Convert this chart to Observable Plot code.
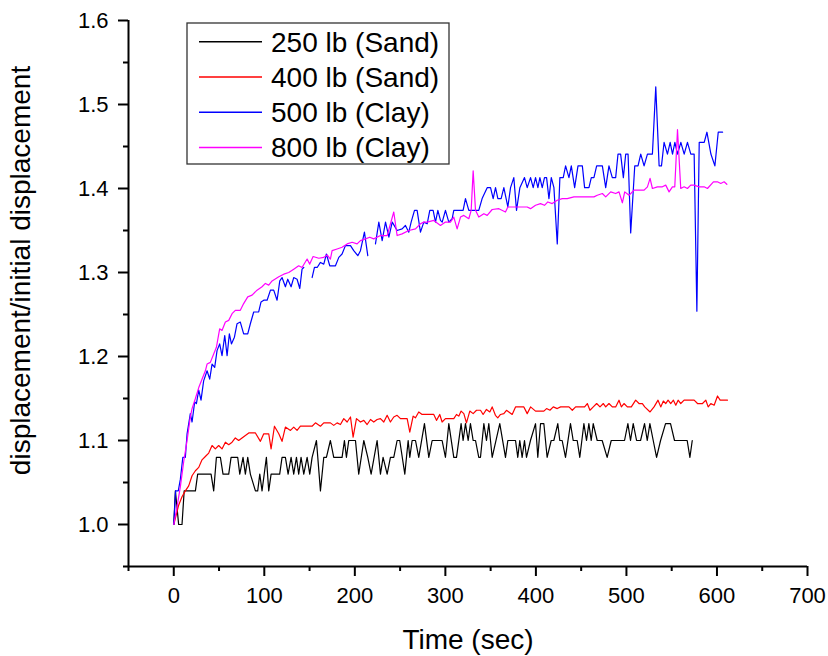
<!DOCTYPE html>
<html><head><meta charset="utf-8">
<script src="https://cdn.jsdelivr.net/npm/d3@7"></script>
<script src="https://cdn.jsdelivr.net/npm/@observablehq/plot@0.6"></script>
<style>body{margin:0;background:#fff;} #chart{width:828px;height:656px;}</style>
</head><body><div id="chart"></div>
<script>
const seriesNames = ["250 lb (Sand)", "400 lb (Sand)", "500 lb (Clay)", "800 lb (Clay)"];
const seriesColors = ["#000000", "#ff0000", "#0000ff", "#ff00ff"];
const xTicks = [0, 100, 200, 300, 400, 500, 600, 700];
const xMinor = [-50, 50, 150, 250, 350, 450, 550, 650];
const yTicks = [1.0, 1.1, 1.2, 1.3, 1.4, 1.5, 1.6];
const yMinor = [0.95, 1.05, 1.15, 1.25, 1.35, 1.45, 1.55];
const xLabel = "Time (sec)";
const yLabel = "displacement/initial displacement";

// 250 lb (Sand)
const t250 = [0,1.8,5.4,9.1,11.5,23.9,26.4,41.2,44.1,47.1,51.5,54.4,60.7,63.3,70.6,72.9,76.5,79.1,81.7,84.6,90.2,92.7,95,97.5,102.3,104.9,107.5,117,119.6,123.3,126.3,129.6,132.5,135.5,138,140.6,143.6,147.3,150.2,152.8,157.6,162,165.7,168.6,173,176.7,185.9,188.5,190.7,193.3,200.7,204.3,209.9,214.3,218,224.6,228.3,231.2,235.7,239.3,243,246.7,249.6,255.2,258.9,260.7,263.3,267,270.6,276.9,281.7,285.4,296.4,300.1,303.8,309.3,312.3,317.4,319.6,322.2,325.2,327.7,330.7,333.3,336.9,338.8,342.5,345.4,348,351.7,360.1,366.4,369,377.5,380,382.2,384.8,387.4,389.6,394,399.6,402.1,405.1,408.8,412.4,416.9,419.8,424.2,426.4,429,432.7,438.2,441.2,445.6,448.5,453,455.9,458.5,461.1,463.3,467.7,473.2,478.7,483.2,497.9,501.6,504.5,507.5,511.2,515.6,520,523,525.9,529.6,533.3,537.7,543.2,548.7,553.1,567.1,570.1,572.7];
const v250 = [1.00,1.04,1.00,1.00,1.04,1.04,1.06,1.06,1.04,1.08,1.08,1.06,1.06,1.08,1.08,1.06,1.08,1.06,1.08,1.06,1.04,1.04,1.06,1.04,1.08,1.04,1.06,1.06,1.08,1.08,1.06,1.08,1.06,1.08,1.06,1.08,1.06,1.08,1.06,1.08,1.10,1.04,1.08,1.08,1.10,1.08,1.08,1.10,1.08,1.10,1.10,1.06,1.10,1.08,1.06,1.10,1.06,1.08,1.06,1.08,1.08,1.10,1.10,1.06,1.10,1.08,1.10,1.10,1.08,1.12,1.08,1.10,1.10,1.08,1.12,1.08,1.08,1.12,1.10,1.12,1.10,1.12,1.10,1.10,1.08,1.08,1.12,1.10,1.12,1.08,1.12,1.08,1.10,1.10,1.08,1.10,1.08,1.10,1.08,1.10,1.12,1.08,1.12,1.12,1.08,1.10,1.10,1.12,1.10,1.10,1.08,1.12,1.10,1.10,1.08,1.12,1.10,1.12,1.10,1.12,1.10,1.10,1.08,1.10,1.10,1.12,1.10,1.12,1.10,1.10,1.12,1.10,1.12,1.10,1.08,1.10,1.12,1.12,1.10,1.10,1.08,1.10];

// 400 lb (Sand)
const t400 = [0,5.4,9.1,12.8,16.5,20.2,23.9,27.6,31.2,34.9,38.6,42.3,45.9,49.6,53.3,57,60.7,64.4,68,71.7,75.4,79.1,82.8,90.2,95.7,99.4,104.9,107.5,111.2,116,119.6,123.3,128.9,132.5,136.2,139.9,152.8,156.5,162,165.7,173,176.7,180.4,184.1,187.8,191.5,195.2,198.1,201.8,206.2,209.9,213.6,217.3,220.9,224.6,228.3,232,235.7,239.3,243,246.7,250.4,257.8,260.7,264.4,267,270.6,274.3,287.2,290.2,293.8,296.4,300.1,309.3,312.3,314.8,317.4,320.4,323.3,327,330.7,334.4,338.8,341.7,345.4,349.1,351.7,355.3,357.9,360.9,364.6,367.5,370.1,373.8,377.5,386.7,390.4,394.1,399.6,408.8,411.8,415.5,419.2,423.6,427.3,436.5,440.2,443.9,453.8,456.8,459.7,463.4,467.1,470.8,474.5,477.1,480.7,484.4,488.1,491.8,494.4,497.3,501,505.4,510.2,513.9,517.6,520.2,526.1,530.5,534.9,537.9,540.8,543.4,546,548.9,551.9,554.5,557.1,560,563.7,574.8,578.5,584,587.7,590.3,593.2,596.9,600.6,603.5,611.6];
const v400 = [1.000,1.023,1.033,1.040,1.046,1.058,1.064,1.068,1.077,1.081,1.085,1.094,1.090,1.094,1.090,1.098,1.095,1.098,1.103,1.100,1.103,1.106,1.109,1.109,1.099,1.108,1.108,1.090,1.117,1.108,1.099,1.116,1.112,1.116,1.112,1.117,1.117,1.121,1.117,1.121,1.121,1.118,1.121,1.119,1.126,1.122,1.128,1.104,1.126,1.122,1.124,1.119,1.125,1.122,1.125,1.126,1.122,1.130,1.122,1.128,1.130,1.126,1.126,1.110,1.129,1.127,1.134,1.131,1.131,1.124,1.131,1.122,1.126,1.126,1.131,1.129,1.135,1.132,1.121,1.135,1.132,1.136,1.136,1.131,1.137,1.134,1.140,1.130,1.127,1.131,1.132,1.136,1.134,1.131,1.140,1.140,1.132,1.140,1.135,1.135,1.138,1.136,1.140,1.138,1.140,1.140,1.136,1.140,1.140,1.144,1.136,1.140,1.144,1.140,1.144,1.140,1.144,1.140,1.140,1.148,1.140,1.144,1.140,1.140,1.148,1.144,1.144,1.140,1.134,1.140,1.148,1.140,1.147,1.144,1.148,1.144,1.148,1.142,1.148,1.144,1.148,1.148,1.144,1.144,1.148,1.140,1.144,1.142,1.153,1.148,1.148];

// 500 lb (Clay) — null marks a break in the recorded line
const t500 = [0,2,5,7.3,10,12.8,14.7,18.3,20.2,23.1,25,27.6,30.1,33,36.8,39.7,42.3,45.2,47.8,50.7,53.3,56.3,58.9,61.4,63.7,67,69.9,73.5,77.2,81.7,84.6,88.3,93.8,96.4,99.4,103.1,106.8,110.4,114.1,117.1,119.6,123.3,125.9,129.6,132.5,136.2,139.2,141.7,143.6,148,152.8,155.4,158.4,162,165.7,168.6,172.3,178.6,182.3,185.9,189.6,195.2,198.8,203.3,206.2,210.6,214.3,218,222.8,226.5,230.2,233.9,237.6,241.3,246.7,252.2,255.9,259.6,262.2,265.9,268.8,272.5,276.2,279.9,282.8,286.5,289.1,291.7,294.6,296.5,300.1,303.8,307.5,309.3,316.7,319.6,322.2,325.9,336.9,340.6,346.2,349.9,352.8,355.4,358,361.6,364.6,369,372,375.6,378.6,382.3,387.4,390.4,394.1,397,399.6,402.2,404.4,407,409.5,411.8,414.4,417,419.9,423.6,426.5,430.2,432.8,436.5,439.1,442.8,446.5,451.3,453.8,458.6,461.2,464.1,467.1,473.4,477.1,480.7,484.4,488.1,490.7,493.6,496.6,499.2,501.8,504.7,509.2,512.8,515.8,519.5,523.2,528.7,532.4,536.1,538.7,541.6,545.3,548.3,550.9,553.5,556.4,560.1,563.8,567.4,571.1,574.8,577.8,580.4,585.9,588.9,593.3,597.7,601.4,606.2];
const v500 = [1.000,1.040,1.040,1.054,1.080,1.080,1.108,1.132,1.122,1.146,1.144,1.160,1.148,1.171,1.183,1.173,1.191,1.187,1.207,1.215,1.201,1.225,1.201,1.227,1.215,1.223,1.239,1.241,1.227,1.227,1.239,1.253,1.253,1.265,1.267,1.267,1.279,1.279,1.267,1.290,1.294,1.283,1.292,1.283,1.294,1.292,1.281,1.304,1.306,null,1.294,1.306,1.306,1.312,1.310,1.322,1.308,1.308,1.318,1.322,1.332,1.332,1.326,1.320,1.326,1.348,1.320,null,1.334,1.360,1.338,1.360,1.342,1.360,1.350,1.352,1.356,1.348,1.360,1.374,1.374,1.348,1.360,1.358,1.374,1.374,1.360,1.374,1.362,1.360,1.374,1.360,1.364,1.374,1.374,1.374,1.388,1.374,1.374,1.388,1.401,1.401,1.388,1.401,1.388,1.388,1.401,1.378,1.401,1.413,1.374,1.401,1.413,1.401,1.413,1.401,1.413,1.401,1.413,1.401,1.413,1.413,1.388,1.413,1.401,1.334,1.413,1.413,1.427,1.413,1.427,1.401,1.427,1.427,1.401,1.401,1.413,1.413,1.427,1.427,1.401,1.427,1.413,1.413,1.441,1.441,1.413,1.441,1.441,1.347,1.427,1.427,1.441,1.427,1.441,1.441,1.521,1.427,1.427,1.455,1.441,1.455,1.441,1.455,1.441,1.455,1.441,1.455,1.441,1.441,1.254,1.455,1.455,1.467,1.441,1.427,1.467,1.467];

// 800 lb (Clay)
const t800 = [0,3.6,7.3,11,14.7,18.3,20.2,23.9,27.6,31.2,34.9,36.8,40.4,44.1,47.1,50.7,53.3,57,60.7,64.4,68,73.5,77.2,81.7,86.5,92,97.5,101.2,104.9,108.6,116,121.5,127,132.5,138,141.7,147.3,150.2,153.9,160.2,165.7,169.4,173,174.9,180.4,185.9,191.5,197,202.5,206.2,211.7,216.5,220.9,228.3,235.7,243,246.7,252.2,259.6,267,272.5,276.2,279.9,287.2,294.6,300.1,305.6,309.3,313,316.7,320.4,325.9,328.5,330.7,333.3,336.9,342.5,346.2,351.7,359.1,366.4,369,390.4,394.1,399.6,405.1,409.5,413.2,418,423.6,429.1,434.6,442,449.4,456.8,464.1,467.8,473.4,477.1,482.6,488.1,491.8,495.5,498.1,502.9,508.4,513.9,519.5,523.2,526.1,528.7,534.2,539.7,543.4,547.1,550.8,553.4,556.4,560,563.7,567.4,571,574.7,580.3,585.8,589.5,596.1,600.5,604.2,607.9,610.9];
const v800 = [1.000,1.021,1.045,1.075,1.100,1.128,1.138,1.150,1.163,1.173,1.183,1.191,1.193,1.203,1.211,1.233,1.231,1.241,1.243,1.251,1.255,1.255,1.263,1.271,1.273,1.279,1.283,1.287,1.285,1.290,1.295,1.298,1.300,1.304,1.308,1.306,1.316,1.310,1.319,1.317,1.318,1.321,1.316,1.326,1.328,1.330,1.334,1.336,1.334,1.338,1.340,1.342,1.340,1.344,1.344,1.372,1.344,1.346,1.350,1.352,1.358,1.360,1.360,1.362,1.356,1.360,1.360,1.366,1.352,1.366,1.368,1.364,1.374,1.421,1.374,1.366,1.370,1.368,1.375,1.376,1.372,1.378,1.378,1.376,1.380,1.382,1.380,1.384,1.382,1.386,1.388,1.388,1.390,1.390,1.390,1.390,1.392,1.394,1.390,1.396,1.394,1.396,1.383,1.396,1.392,1.398,1.398,1.398,1.402,1.412,1.400,1.402,1.402,1.404,1.396,1.402,1.402,1.470,1.400,1.402,1.400,1.404,1.404,1.402,1.402,1.400,1.408,1.408,1.406,1.408,1.405];

const seriesT = [t250, t400, t500, t800];
const seriesV = [v250, v400, v500, v800];
const rowsOf = i => seriesT[i].map((t, k) => ({t, v: seriesV[i][k]}));

const font = "'Liberation Sans', Arial, Helvetica, sans-serif";

const plot = Plot.plot({
  width: 828,
  height: 656,
  marginLeft: 128,
  marginRight: 21,
  marginTop: 20,
  marginBottom: 90,
  style: {fontFamily: font, color: "#000", background: "#fff", overflow: "visible"},
  x: {domain: [-50, 700], label: null},
  y: {domain: [0.95, 1.6], label: null},
  marks: [
    Plot.axisX({ticks: xTicks, tickSize: 10, tickPadding: 11, fontSize: 22, strokeWidth: 2, label: null, tickFormat: d => String(d)}),
    Plot.axisX({ticks: xMinor, tickSize: 5, strokeWidth: 2, label: null, tickFormat: () => ""}),
    Plot.axisY({ticks: yTicks, tickSize: 10, tickPadding: 10, fontSize: 22, strokeWidth: 2, label: null, tickFormat: d3.format(".1f")}),
    Plot.axisY({ticks: yMinor, tickSize: 5, strokeWidth: 2, label: null, tickFormat: () => ""}),
    Plot.ruleX([-50], {stroke: "#000", strokeWidth: 2}),
    Plot.ruleY([0.95], {stroke: "#000", strokeWidth: 2}),
    ...seriesNames.map((name, i) => Plot.line(rowsOf(i), {x: "t", y: "v", stroke: seriesColors[i], strokeWidth: 1.2})),
    Plot.text([yLabel], {frameAnchor: "left", rotate: -90, dx: -107, dy: -23, fontSize: 28, textAnchor: "middle", lineAnchor: "middle"}),
    Plot.text([xLabel], {frameAnchor: "bottom", dy: 63, fontSize: 28, textAnchor: "middle", lineAnchor: "top"})
  ]
});

// Legend box inside the plot area
const svg = d3.select(plot);
const lg = svg.append("g").attr("text-anchor", "start");
lg.append("rect").attr("x", 187).attr("y", 23).attr("width", 262).attr("height", 141)
  .attr("fill", "#fff").attr("stroke", "#333").attr("stroke-width", 1.3);
seriesNames.forEach((name, i) => {
  const cy = 41.7 + i * 35.3;
  lg.append("line").attr("x1", 199).attr("x2", 262).attr("y1", cy).attr("y2", cy)
    .attr("stroke", seriesColors[i]).attr("stroke-width", 1.5);
  lg.append("text").attr("x", 271).attr("y", cy).attr("dy", "0.35em")
    .attr("text-anchor", "start")
    .attr("font-size", 28).attr("font-family", font).attr("fill", "#000").text(name);
});

document.getElementById("chart").appendChild(plot);
</script>
</body></html>
